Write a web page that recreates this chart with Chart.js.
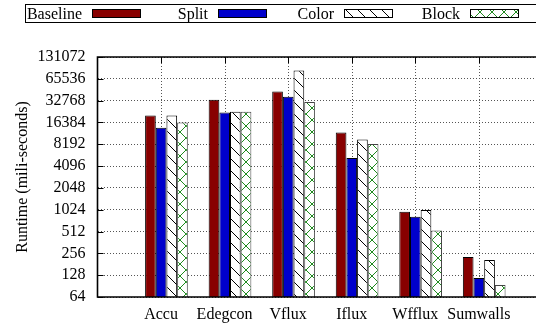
<!DOCTYPE html>
<html>
<head>
<meta charset="utf-8">
<script src="https://cdn.jsdelivr.net/npm/chart.js@4"></script>
<style>
  html, body { margin: 0; padding: 0; background: #fff; overflow: hidden; }
</style>
</head>
<body>
<canvas id="runtimeChart" width="536" height="326"></canvas>
<script>
var categories = ['Accu', 'Edegcon', 'Vflux', 'Iflux', 'Wfflux', 'Sumwalls'];
var seriesNames = ['Baseline', 'Split', 'Color', 'Block'];
var baseline = [20400, 33700, 43800, 11900, 960, 228];
var split = [13900, 22400, 37100, 5300, 820, 117];
var color = [20400, 23000, 85600, 9550, 1016, 207];
var block = [16384, 23000, 31400, 8250, 530, 94];
var yTicks = [64, 128, 256, 512, 1024, 2048, 4096, 8192, 16384, 32768, 65536, 131072];

// clusters sit a little right of their tick, like the gnuplot original
var groupShift = 0.085;

function hatch(bg, fg, cross) {
    const c = document.createElement('canvas');
    c.width = 12;
    c.height = 12;
    const g = c.getContext('2d');
    g.fillStyle = bg;
    g.fillRect(0, 0, 12, 12);
    g.strokeStyle = fg;
    g.lineWidth = 1;
    g.beginPath();
    g.moveTo(-1, -1);
    g.lineTo(13, 13);
    if (cross) {
        g.moveTo(-1, 13);
        g.lineTo(13, -1);
    }
    g.stroke();
    return g.createPattern(c, 'repeat');
}

function points(values) {
    return values.map((v, i) => ({ x: i + 1 + groupShift, y: v }));
}

Chart.defaults.font.family = '"Liberation Serif", "Times New Roman", serif';
Chart.defaults.font.size = 16;
Chart.defaults.color = '#000';

var frameAndKey = {
    id: 'frameAndKey',
    beforeDatasetsDraw(chart) {
        // dotted vertical grid at each category tick
        const c = chart.ctx;
        const a = chart.chartArea;
        const xs = chart.scales.x;
        c.save();
        c.strokeStyle = '#555';
        c.lineWidth = 1;
        c.setLineDash([1, 2]);
        c.beginPath();
        for (let i = 1; i <= categories.length; i++) {
            const px = Math.round(xs.getPixelForValue(i)) + 0.5;
            c.moveTo(px, a.top);
            c.lineTo(px, a.bottom);
        }
        c.stroke();
        c.restore();
    },
    afterDraw(chart) {
        const c = chart.ctx;
        const a = chart.chartArea;
        const xs = chart.scales.x;
        const ys = chart.scales.y;
        c.save();
        c.strokeStyle = '#000';
        c.lineWidth = 1;
        c.beginPath();
        yTicks.forEach(v => {
            const py = Math.round(ys.getPixelForValue(v)) + 0.5;
            c.moveTo(a.left, py);
            c.lineTo(a.left + 6, py);
        });
        for (let i = 1; i <= categories.length; i++) {
            const px = Math.round(xs.getPixelForValue(i)) + 0.5;
            c.moveTo(px, a.top);
            c.lineTo(px, a.top + 6);
        }
        c.stroke();

        c.lineWidth = 1.6;
        c.beginPath();
        c.moveTo(a.right + 4, a.top);
        c.lineTo(a.left, a.top);
        c.lineTo(a.left, a.bottom);
        c.lineTo(a.right + 4, a.bottom);
        c.stroke();

        // key box across the top
        c.lineWidth = 1;
        c.strokeRect(25.5, 4.5, 520, 18);
        c.font = '16px "Liberation Serif", "Times New Roman", serif';
        c.textAlign = 'right';
        c.textBaseline = 'alphabetic';
        chart.data.datasets.forEach((ds, i) => {
            const sx = 92 + i * 126;
            c.fillStyle = '#000';
            c.fillText(ds.label, sx - 10, 18.5);
            c.fillStyle = ds.backgroundColor;
            c.fillRect(sx + 0.5, 9.5, 48, 8);
            c.strokeStyle = '#000';
            c.strokeRect(sx + 0.5, 9.5, 48, 8);
        });
        c.restore();
    }
};

const canvasEl = document.getElementById('runtimeChart');
const myChart = new Chart(canvasEl, {
    type: 'bar',
    data: {
        datasets: [
            { label: seriesNames[0], data: points(baseline), backgroundColor: '#880000' },
            { label: seriesNames[1], data: points(split), backgroundColor: '#0000cc' },
            { label: seriesNames[2], data: points(color), backgroundColor: hatch('#fff', '#000', false) },
            { label: seriesNames[3], data: points(block), backgroundColor: hatch('#fff', '#1f8a1f', true), borderColor: '#444' }
        ]
    },
    options: {
        responsive: false,
        animation: false,
        categoryPercentage: 0.672,
        barPercentage: 1.0,
        datasets: {
            bar: { borderColor: '#000', borderWidth: 1, borderSkipped: 'start' }
        },
        layout: { padding: { top: 57, right: 0, left: 0, bottom: 0 } },
        plugins: {
            legend: { display: false },
            tooltip: { enabled: false }
        },
        scales: {
            x: {
                type: 'linear',
                min: 0,
                max: 6.9,
                offset: false,
                afterBuildTicks: s => { s.ticks = [0, 1, 2, 3, 4, 5, 6].map(v => ({ value: v })); },
                afterFit: s => { s.height = 29; },
                grid: { drawOnChartArea: false, drawTicks: false, offset: false },
                border: { display: false },
                ticks: {
                    padding: 8,
                    maxRotation: 0,
                    autoSkip: false,
                    callback: v => categories[v - 1] || ''
                }
            },
            y: {
                type: 'logarithmic',
                min: 64,
                max: 131072,
                afterBuildTicks: s => { s.ticks = yTicks.map(v => ({ value: v })); },
                afterFit: s => { s.width = 97.5; },
                grid: { color: '#555', drawTicks: false },
                border: { display: false, dash: [1, 2] },
                ticks: {
                    padding: 12,
                    autoSkip: false,
                    callback: v => String(v)
                },
                title: {
                    display: true,
                    text: 'Runtime (mili-seconds)',
                    padding: { top: 13, bottom: 0 }
                }
            }
        }
    },
    plugins: [frameAndKey]
});
</script>
</body>
</html>
